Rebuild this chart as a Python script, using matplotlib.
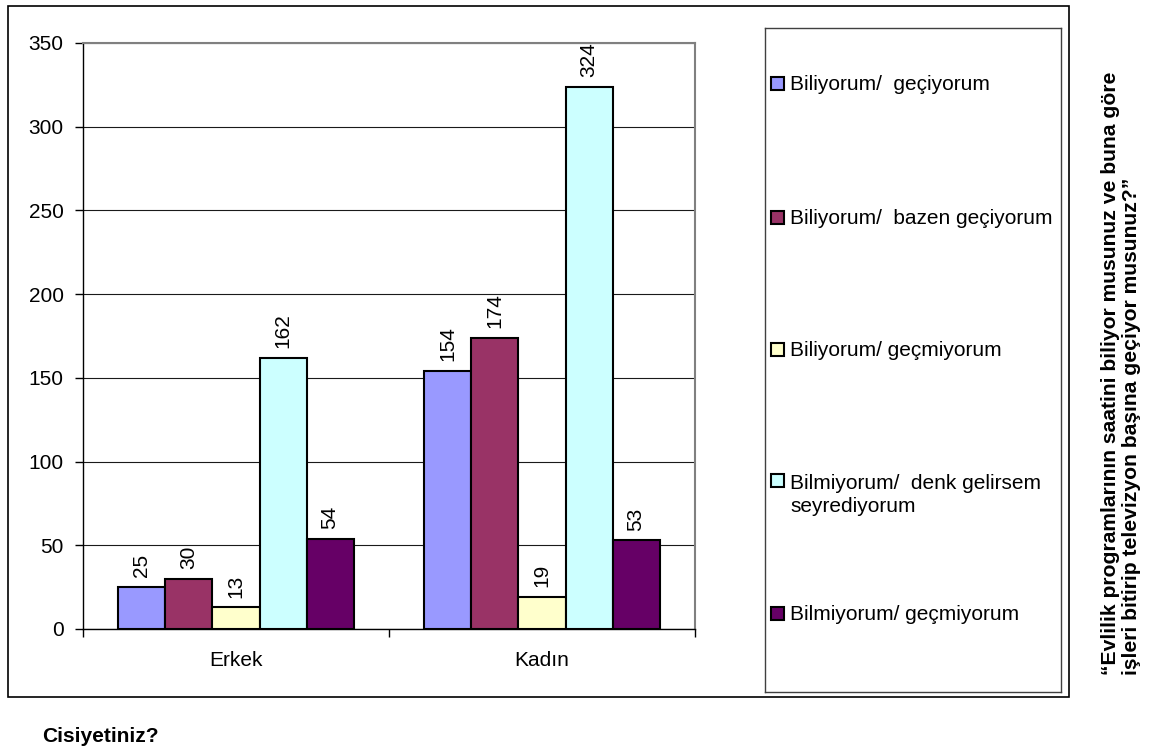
import numpy as np
import matplotlib
matplotlib.use("Agg")
import matplotlib.pyplot as plt
from matplotlib.patches import Rectangle

# Data
categories = ["Erkek", "Kadın"]
series_names = [
    "Biliyorum/  geçiyorum",
    "Biliyorum/  bazen geçiyorum",
    "Biliyorum/ geçmiyorum",
    "Bilmiyorum/  denk gelirsem\nseyrediyorum",
    "Bilmiyorum/ geçmiyorum",
]
erkek = [25, 30, 13, 162, 54]
kadin = [154, 174, 19, 324, 53]
y_ticks = [0, 50, 100, 150, 200, 250, 300, 350]

colors = ["#9999FF", "#993366", "#FFFFCC", "#CCFFFF", "#660066"]

title = ("\u201cEvlilik programlarının saatini biliyor musunuz ve buna göre\n"
         "işleri bitirip televizyon başına geçiyor musunuz?\u201d")
caption = "Cisiyetiniz?"

W, H = 1155, 749
plt.rcParams['font.family'] = ['Liberation Sans', 'DejaVu Sans']
fig = plt.figure(figsize=(W / 100, H / 100), dpi=100)


def px(x0, y0, x1, y1):
    # pixel box (top-left origin) -> figure fraction rect
    return [x0 / W, 1 - y1 / H, (x1 - x0) / W, (y1 - y0) / H]


# outer chart frame
fig.patches.append(Rectangle((8 / W, 1 - 697 / H), 1061 / W, 691 / H,
                             transform=fig.transFigure, fill=False,
                             ec='black', lw=1.2))

# bars
ax = fig.add_axes(px(83, 43, 695, 629))
values = [erkek, kadin]
n = len(series_names)
w = 1 / 6.5  # gap width 150%
x = np.arange(len(categories))
for i in range(n):
    vals = [v[i] for v in values]
    bars = ax.bar(x + (i - (n - 1) / 2) * w, vals, w, color=colors[i],
                  edgecolor='black', linewidth=1.5, zorder=3)
    ax.bar_label(bars, rotation=90, padding=7, fontsize=15)

ax.set_xlim(-0.5, len(categories) - 0.5)
ax.set_ylim(0, 350)
ax.set_yticks(y_ticks)
ax.set_xticks(np.arange(len(categories) + 1) - 0.5, labels=[])
ax.set_xticks(x, labels=categories, minor=True)
ax.tick_params(axis='x', which='major', length=6, width=1, direction='out')
ax.tick_params(axis='x', which='minor', length=0, pad=16, labelsize=15)
ax.tick_params(axis='y', length=6, width=1, direction='out', pad=8, labelsize=15)
ax.yaxis.grid(True, color='#1a1a1a', lw=0.8)
ax.set_axisbelow(True)
for s in ['top', 'right']:
    ax.spines[s].set_color('#808080')
    ax.spines[s].set_linewidth(1.5)
for s in ['left', 'bottom']:
    ax.spines[s].set_color('black')
    ax.spines[s].set_linewidth(1.0)

# legend box
lax = fig.add_axes(px(765, 28, 1061, 692))
lax.set_xlim(765, 1061)
lax.set_ylim(692, 28)
lax.set_xticks([])
lax.set_yticks([])
for s in lax.spines.values():
    s.set_color('#404040')
    s.set_linewidth(1.0)
leg_rows = [83, 217, 349, 480, 613]
line_gap = 25
for name, col, row in zip(series_names, colors, leg_rows):
    lax.add_patch(Rectangle((771, row - 6.5), 13, 13, fc=col, ec='black', lw=1.5))
    # baseline anchors the last line, so push multi-line labels down
    extra = name.count('\n') * line_gap
    lax.text(790, row + 7.5 + extra, name, ha='left', va='baseline',
             fontsize=15, linespacing=1.3)

# side title and bottom caption
fig.text(1121 / W, 1 - 675 / H, title, rotation=90, ha='center', va='bottom',
         multialignment='left', fontsize=15.2, fontweight='bold', linespacing=1.15)
fig.text(42 / W, 1 - 742 / H, caption, ha='left', va='baseline',
         fontsize=15, fontweight='bold')

fig.savefig('out.png', dpi=100)
